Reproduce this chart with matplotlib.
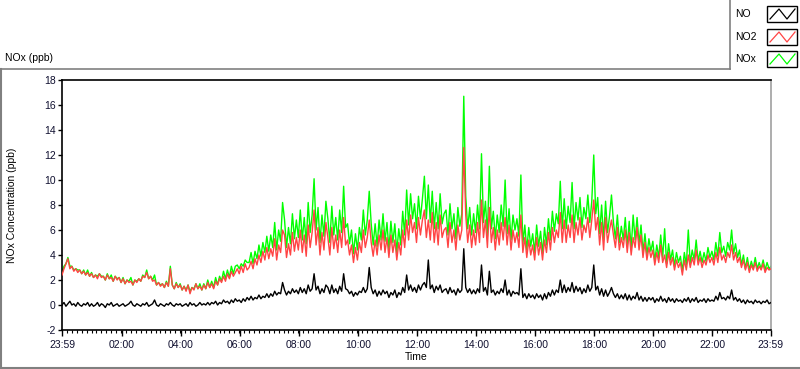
import numpy as np
import matplotlib
matplotlib.use("Agg")
import matplotlib.pyplot as plt
from matplotlib.lines import Line2D
from matplotlib.patches import Rectangle
from matplotlib.ticker import MultipleLocator, FixedLocator

plt.rcParams['font.family'] = ['Liberation Sans', 'DejaVu Sans']

# ---- data (4-minute samples, starting 23:59 of previous day; one row = one hour) ----
no2 = [
    2.4, 2.9, 3.3, 3.7, 2.9, 3.1, 2.7, 2.9, 2.6, 2.8, 2.5, 2.7, 2.4, 2.6, 2.3,
    2.5, 2.2, 2.4, 2.1, 2.5, 2.2, 2.3, 2.0, 2.4, 2.1, 2.2, 1.9, 2.3, 2.0, 2.2,
    1.8, 2.1, 1.7, 2.0, 1.8, 1.9, 1.6, 2.0, 1.8, 2.1, 1.9, 2.3, 2.2, 2.6, 2.1,
    2.3, 1.9, 2.0, 1.6, 1.8, 1.5, 1.7, 1.4, 1.8, 1.5, 2.9, 1.6, 1.3, 1.7, 1.4,
    1.6, 1.2, 1.5, 1.1, 1.6, 0.9, 1.4, 1.2, 1.7, 1.3, 1.5, 1.2, 1.6, 1.3, 1.8,
    1.4, 1.7, 1.3, 1.9, 1.6, 2.1, 1.8, 2.3, 1.9, 2.5, 2.1, 2.7, 2.3, 2.6, 2.9,
    2.5, 3.1, 2.6, 3.3, 2.8, 3.0, 3.5, 2.9, 3.7, 3.2, 4.0, 3.4, 4.3, 3.6, 4.6,
    3.7, 4.5, 3.9, 5.3, 3.6, 4.8, 4.2, 6.0, 5.6, 3.8, 4.9, 4.0, 5.8, 4.3, 5.4,
    4.4, 6.0, 4.2, 5.6, 3.9, 6.4, 4.6, 5.8, 7.6, 4.8, 6.2, 4.0, 5.8, 4.4, 6.6,
    5.4, 4.0, 6.2, 4.5, 5.6, 4.2, 6.0, 4.6, 7.0, 4.8, 5.2, 4.0, 4.8, 3.4, 4.6,
    3.6, 5.0, 4.2, 6.0, 4.6, 5.4, 6.8, 5.0, 3.9, 5.2, 4.0, 5.6, 4.4, 6.0, 4.2,
    5.4, 3.8, 5.6, 4.2, 5.2, 3.6, 5.0, 4.0, 6.0, 4.6, 6.8, 5.2, 7.2, 5.8, 6.6,
    5.0, 7.0, 5.6, 6.8, 7.6, 5.4, 6.8, 5.2, 7.4, 5.0, 6.6, 4.8, 7.2, 5.4, 6.0,
    6.2, 4.6, 6.6, 5.0, 6.0, 4.4, 6.4, 5.2, 6.0, 12.6, 7.2, 5.0, 6.4, 4.6, 6.0,
    4.8, 6.6, 5.0, 8.4, 5.4, 6.8, 4.6, 7.8, 5.0, 6.2, 4.4, 6.0, 4.8, 6.6, 5.2,
    7.0, 4.8, 6.4, 4.4, 6.0, 5.0, 5.8, 4.6, 7.2, 4.2, 5.4, 3.8, 5.2, 4.0, 4.8,
    3.6, 5.4, 4.0, 5.0, 3.6, 5.2, 4.2, 5.8, 4.4, 6.2, 5.0, 6.0, 5.4, 7.4, 5.0,
    6.8, 5.0, 6.4, 5.4, 7.2, 5.0, 6.6, 5.6, 7.0, 5.2, 6.4, 5.8, 7.0, 5.4, 6.8,
    8.4, 6.0, 7.0, 4.8, 6.6, 4.4, 7.0, 5.0, 6.0, 6.8, 5.6, 4.6, 6.2, 4.4, 5.4,
    4.6, 6.0, 4.2, 5.8, 4.0, 5.4, 4.6, 6.2, 4.4, 5.6, 3.8, 5.0, 3.6, 4.6, 3.8,
    4.4, 3.2, 4.2, 3.4, 4.8, 3.4, 4.0, 3.0, 4.2, 3.2, 3.8, 2.8, 3.6, 3.0, 3.4,
    2.4, 3.6, 2.8, 4.0, 3.0, 3.8, 3.2, 4.4, 3.2, 3.8, 3.0, 3.6, 3.2, 4.0, 3.4,
    3.8, 3.2, 4.2, 3.4, 4.6, 3.6, 4.0, 3.4, 4.2, 3.8, 4.8, 3.6, 4.2, 3.4, 3.8,
    3.0, 3.6, 2.8, 3.4, 2.6, 3.2, 2.8, 3.4, 2.7, 3.1, 2.8, 3.3, 2.6, 3.0, 2.8,
    2.9,
]

nox = [
    2.5, 3.1, 3.3, 3.8, 3.1, 3.1, 2.8, 2.9, 2.8, 2.8, 2.5, 2.8, 2.4, 2.8, 2.3,
    2.6, 2.2, 2.4, 2.3, 2.5, 2.3, 2.3, 2.0, 2.5, 2.1, 2.4, 1.9, 2.3, 2.1, 2.2,
    1.8, 2.2, 1.7, 2.0, 1.9, 2.2, 1.6, 2.0, 1.9, 2.1, 1.9, 2.4, 2.2, 2.8, 2.1,
    2.3, 2.0, 2.4, 1.6, 1.8, 1.6, 1.7, 1.4, 1.9, 1.5, 3.1, 1.6, 1.3, 1.8, 1.4,
    1.7, 1.2, 1.5, 1.2, 1.6, 1.1, 1.4, 1.3, 1.7, 1.3, 1.7, 1.2, 1.7, 1.3, 2.0,
    1.4, 1.9, 1.4, 2.2, 1.6, 2.3, 1.9, 2.7, 2.1, 2.8, 2.2, 3.1, 2.5, 3.1, 3.2,
    2.9, 3.3, 3.1, 3.6, 3.4, 3.4, 4.2, 3.3, 4.3, 3.7, 4.8, 3.9, 5.0, 4.2, 5.5,
    4.3, 5.6, 4.6, 6.6, 4.4, 6.0, 5.1, 8.2, 6.8, 4.6, 6.2, 4.9, 7.3, 5.3, 6.8,
    5.4, 7.6, 5.2, 7.0, 4.9, 8.2, 5.8, 7.2, 10.1, 6.0, 7.8, 5.0, 7.2, 5.5, 8.3,
    6.9, 5.0, 7.9, 5.6, 7.0, 5.2, 7.6, 5.8, 9.5, 6.2, 6.5, 4.9, 6.0, 4.1, 5.7,
    4.4, 6.2, 5.2, 7.6, 5.6, 6.8, 9.1, 6.5, 4.8, 6.5, 4.7, 6.8, 5.2, 7.3, 5.1,
    6.6, 4.4, 6.7, 5.0, 6.5, 4.2, 6.1, 4.8, 7.5, 5.6, 9.2, 6.4, 8.9, 6.9, 8.1,
    6.1, 8.7, 6.9, 8.5, 10.3, 6.9, 9.6, 6.6, 9.1, 6.1, 8.2, 6.1, 8.9, 6.5, 7.3,
    7.6, 5.6, 8.1, 6.1, 7.3, 5.3, 7.8, 6.3, 7.3, 16.7, 8.7, 6.1, 7.8, 5.6, 7.3,
    5.8, 8.0, 6.1, 12.1, 6.6, 8.3, 5.5, 11.1, 6.1, 7.5, 5.3, 7.2, 5.8, 8.0, 6.3,
    10.0, 5.7, 7.7, 5.2, 7.2, 6.0, 6.9, 5.5, 10.4, 4.9, 6.4, 4.4, 6.2, 4.7, 5.7,
    4.2, 6.4, 4.7, 5.9, 4.1, 6.2, 4.8, 6.9, 5.2, 7.5, 5.9, 7.3, 6.5, 9.9, 6.1,
    8.5, 6.1, 7.9, 6.6, 9.8, 6.1, 8.2, 6.8, 8.6, 6.2, 7.8, 6.9, 8.8, 6.6, 8.3,
    12.0, 7.3, 8.6, 5.7, 8.0, 5.2, 8.3, 5.8, 7.1, 8.8, 6.6, 5.3, 7.2, 5.0, 6.3,
    5.2, 7.0, 4.7, 6.7, 4.5, 7.2, 5.2, 7.0, 4.9, 6.4, 4.2, 5.7, 4.0, 5.3, 4.3,
    5.1, 3.5, 4.8, 3.8, 5.6, 3.8, 6.1, 3.3, 4.9, 3.6, 4.4, 3.1, 4.2, 3.4, 3.9,
    2.7, 4.2, 3.2, 6.0, 3.3, 4.4, 3.6, 5.2, 3.5, 4.3, 3.4, 4.2, 3.5, 4.6, 3.8,
    4.3, 3.6, 5.0, 3.9, 5.8, 4.2, 4.7, 3.9, 5.0, 4.4, 6.0, 4.1, 4.9, 3.8, 4.4,
    3.2, 4.0, 2.9, 3.8, 2.8, 3.5, 2.9, 3.8, 2.9, 3.4, 2.9, 3.6, 2.8, 3.4, 2.9,
    3.1,
]

no = [
    0.0, 0.2, -0.1, 0.1, 0.3, 0.0, 0.1, -0.1, 0.2, 0.0, -0.1, 0.1, 0.0, 0.2, -0.1,
    0.1, -0.1, 0.0, 0.2, -0.1, 0.1, 0.0, -0.2, 0.1, 0.0, 0.2, -0.1, 0.0, 0.1, -0.1,
    0.0, 0.1, -0.1, 0.0, 0.1, 0.3, 0.0, -0.1, 0.1, 0.0, -0.1, 0.1, 0.0, 0.2, -0.1,
    0.0, 0.1, 0.4, 0.0, -0.1, 0.1, 0.0, -0.1, 0.1, 0.0, 0.2, 0.0, -0.1, 0.1, 0.0,
    0.1, -0.1, 0.0, 0.1, -0.1, 0.2, 0.0, 0.1, -0.1, 0.0, 0.2, 0.0, 0.1, 0.0, 0.2,
    0.0, 0.2, 0.1, 0.3, 0.0, 0.2, 0.1, 0.4, 0.2, 0.3, 0.1, 0.4, 0.2, 0.5, 0.3,
    0.4, 0.2, 0.5, 0.3, 0.6, 0.4, 0.7, 0.4, 0.6, 0.5, 0.8, 0.5, 0.7, 0.6, 0.9,
    0.6, 0.9, 0.7, 1.1, 0.8, 1.0, 0.9, 1.8, 1.2, 0.8, 1.1, 0.9, 1.3, 1.0, 1.2,
    0.9, 1.4, 1.0, 1.3, 0.9, 1.6, 1.1, 1.3, 2.5, 1.2, 1.5, 0.9, 1.3, 1.0, 1.6,
    1.4, 0.9, 1.6, 1.0, 1.3, 0.9, 1.5, 1.1, 2.5, 1.3, 1.2, 0.9, 1.1, 0.7, 1.0,
    0.8, 1.1, 1.0, 1.4, 1.0, 1.3, 3.0, 1.4, 0.9, 1.2, 0.7, 1.1, 0.8, 1.2, 0.9,
    1.1, 0.6, 1.0, 0.8, 1.2, 0.6, 1.0, 0.8, 1.4, 1.0, 2.4, 1.2, 1.6, 1.1, 1.4,
    1.0, 1.6, 1.2, 1.6, 1.8, 1.4, 3.6, 1.3, 1.6, 1.0, 1.5, 1.2, 1.6, 1.0, 1.2,
    1.3, 0.9, 1.4, 1.0, 1.2, 0.8, 1.3, 1.0, 1.2, 4.5, 1.4, 1.0, 1.3, 0.9, 1.2,
    0.9, 1.3, 1.0, 3.2, 1.1, 1.4, 0.8, 2.7, 1.0, 1.2, 0.8, 1.1, 0.9, 1.3, 1.0,
    2.0, 0.8, 1.2, 0.7, 1.1, 0.9, 1.0, 0.8, 2.9, 0.6, 0.9, 0.5, 0.9, 0.6, 0.8,
    0.5, 0.9, 0.6, 0.8, 0.4, 0.9, 0.5, 1.0, 0.7, 1.2, 0.8, 1.2, 1.0, 2.0, 1.0,
    1.6, 1.0, 1.4, 1.1, 1.8, 1.0, 1.5, 1.1, 1.4, 0.9, 1.3, 1.0, 1.6, 1.1, 1.4,
    3.2, 1.2, 1.5, 0.8, 1.3, 0.7, 1.2, 0.7, 1.0, 1.4, 0.9, 0.6, 0.9, 0.5, 0.8,
    0.5, 0.9, 0.4, 0.8, 0.4, 0.7, 0.5, 1.0, 0.4, 0.7, 0.3, 0.6, 0.3, 0.6, 0.4,
    0.6, 0.2, 0.5, 0.3, 0.7, 0.3, 0.5, 0.2, 0.6, 0.3, 0.5, 0.2, 0.5, 0.3, 0.4,
    0.2, 0.5, 0.3, 0.6, 0.2, 0.5, 0.3, 0.6, 0.2, 0.4, 0.3, 0.5, 0.2, 0.5, 0.3,
    0.4, 0.3, 0.7, 0.4, 1.0, 0.5, 0.6, 0.4, 0.7, 0.5, 1.2, 0.4, 0.6, 0.3, 0.5,
    0.2, 0.4, 0.1, 0.4, 0.2, 0.3, 0.1, 0.4, 0.2, 0.3, 0.1, 0.3, 0.2, 0.4, 0.1,
    0.2,
]

sample_step_min = 4
tick_minutes = [0, 121, 241, 361, 481, 601, 721, 841, 961, 1081, 1201, 1321, 1440]
tick_labels = ["23:59", "02:00", "04:00", "06:00", "08:00", "10:00", "12:00",
               "14:00", "16:00", "18:00", "20:00", "22:00", "23:59"]
y_ticks = list(range(-2, 19, 2))
series_names = ["NO", "NO2", "NOx"]
series_colors = ["#000000", "#FF4444", "#00FF00"]

# ---- figure ----
W, H = 800, 369
fig = plt.figure(figsize=(W / 100, H / 100), dpi=100)
fig.patch.set_facecolor("white")

def fx(x):
    return x / W

def fy(y):
    return 1 - y / H

L, R, T, B = 62, 771, 80, 330
ax = fig.add_axes([fx(L), fy(B), (R - L) / W, (B - T) / H])

def times(series):
    return np.arange(len(series)) * sample_step_min

ax.plot(times(nox), nox, color=series_colors[2], lw=1.0, zorder=2)
ax.plot(times(no2), no2, color=series_colors[1], lw=1.0, zorder=3)
ax.plot(times(no), no, color=series_colors[0], lw=1.0, zorder=4)

ax.set_xlim(0, 1440)
ax.set_ylim(-2, 18)
ax.xaxis.set_major_locator(FixedLocator(tick_minutes))
ax.set_xticklabels(tick_labels)
ax.xaxis.set_minor_locator(MultipleLocator(10))
ax.set_yticks(y_ticks)
ax.set_yticklabels([str(v) for v in y_ticks])

ax.tick_params(axis="x", which="major", direction="out", length=4, width=1,
               labelsize=7.5, pad=3)
ax.tick_params(axis="x", which="minor", direction="out", length=2.2, width=0.8)
ax.tick_params(axis="y", which="major", direction="out", length=3, width=1,
               labelsize=7.5, pad=1.5)
for lab in ax.get_xticklabels() + ax.get_yticklabels():
    lab.set_color("#101030")

for s in ["left", "bottom", "top"]:
    ax.spines[s].set_color("#000000")
    ax.spines[s].set_linewidth(1.2)
ax.spines["right"].set_color("#A0A0A0")
ax.spines["right"].set_linewidth(1.2)

ax.set_xlabel("Time", fontsize=7.5, labelpad=2)
fig.text(fx(12), fy(205), "NOx Concentration (ppb)", rotation=90,
         ha="center", va="center", fontsize=7.5)

fig.text(fx(5), fy(58), "NOx (ppb)", ha="left", va="center", fontsize=7.5)

# outer frame
frame_col = "#808080"
fig.add_artist(Line2D([fx(0.5), fx(730)], [fy(69), fy(69)], color=frame_col, lw=1.2))
fig.add_artist(Line2D([fx(0.8), fx(0.8)], [fy(69), fy(368)], color=frame_col, lw=1.5))
fig.add_artist(Line2D([fx(0.5), fx(799.5)], [fy(368), fy(368)], color=frame_col, lw=1.5))
fig.add_artist(Line2D([fx(730), fx(730)], [fy(0), fy(69)], color=frame_col, lw=1.2))

# legend
rows_y = [14, 37, 59]
for name, col, yc in zip(series_names, series_colors, rows_y):
    fig.text(fx(735), fy(yc), name, ha="left", va="center", fontsize=7.5)
    bx0, bx1 = 767, 797
    by0, by1 = yc - 8, yc + 8
    fig.add_artist(Rectangle((fx(bx0), fy(by1)), (bx1 - bx0) / W, (by1 - by0) / H,
                             facecolor="white", edgecolor="#000000", lw=1.0))
    zx = [bx0 + 3, bx0 + 12, bx0 + 20, bx0 + 28]
    zy = [by1 - 3, by0 + 3, by1 - 3, by0 + 3]
    fig.add_artist(Line2D([fx(v) for v in zx], [fy(v) for v in zy], color=col, lw=0.9))

fig.savefig("out.png", dpi=100, facecolor="white")
